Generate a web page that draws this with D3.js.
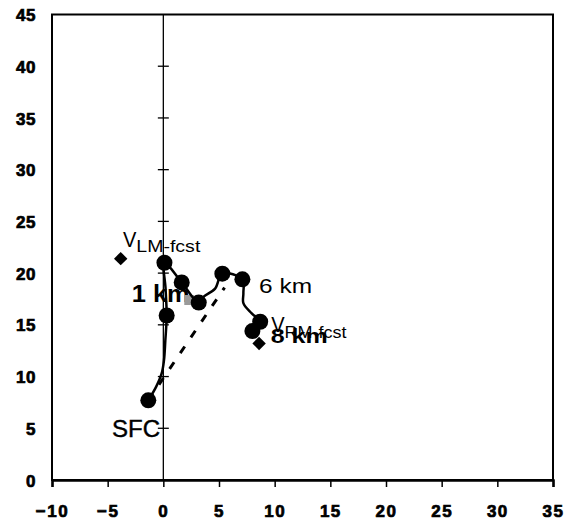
<!DOCTYPE html>
<html><head><meta charset="utf-8">
<script src="https://cdn.jsdelivr.net/npm/d3@7"></script>
<style>body{margin:0;background:#fff}svg{display:block}text{font-family:"Liberation Sans",Arial,sans-serif}</style>
</head><body><svg id="c" width="573" height="523"></svg>
<script>
const xTicks = [-10,-5,0,5,10,15,20,25,30,35];
const yTicks = [0,5,10,15,20,25,30,35,40,45];
const hodoX = [-1.35,-0.65,-0.15,0.06,0.18,0.3,0.2,0.1,1.65,3.18,3.6,4.65,5.3,7.1,7.19,7.19,7.94,8.7,8.0];
const hodoY = [7.7,9.0,10.3,11.6,13.5,15.9,18.5,21.0,19.1,17.15,17.7,18.5,19.95,19.4,18.06,17.1,16.1,15.3,14.4];
const dotX = [-1.35,0.3,0.1,1.65,3.18,5.3,7.1,8.7,8.0];
const dotY = [7.7,15.9,21.0,19.1,17.15,19.95,19.4,15.3,14.4];
const shearX = [-1.35,5.5];
const shearY = [7.7,18.6];
const stormNames = ["LM","RM"];
const stormX = [-3.83,8.6];
const stormY = [21.4,13.2];
const grayX = [2.33];
const grayY = [17.4];

const svg = d3.select("#c");
const x = d3.scaleLinear().domain([-10,35]).range([52,553]);
const y = d3.scaleLinear().domain([0,45]).range([480,14.5]);

// frame
svg.append("rect").attr("x",x(-10)).attr("y",y(45)).attr("width",x(35)-x(-10)).attr("height",y(0)-y(45))
  .attr("fill","none").attr("stroke","#000").attr("stroke-width",2);

// bottom axis
const xa = svg.append("g").attr("transform",`translate(0,${y(0)})`)
  .call(d3.axisBottom(x).tickValues(xTicks).tickSize(7).tickFormat(d3.format("d")));
xa.attr("font-size",null).attr("font-family",null);
xa.select(".domain").attr("stroke-width",2.5);
xa.selectAll(".tick line").attr("stroke-width",1.5);
xa.selectAll(".tick text").attr("dy",null).attr("y",37)
  .attr("font-size",17).attr("font-weight","bold").attr("letter-spacing","1.5px")
  .attr("fill","#000").attr("stroke","#000").attr("stroke-width",0.7);

// left labels
const ya = svg.append("g").attr("transform",`translate(${x(-10)},0)`)
  .call(d3.axisLeft(y).tickValues(yTicks).tickSize(0).tickPadding(16).tickFormat(d3.format("d")));
ya.attr("font-size",null).attr("font-family",null);
ya.select(".domain").remove();
ya.selectAll(".tick text").attr("font-size",17).attr("font-weight","bold").attr("letter-spacing","0.5px")
  .attr("fill","#000").attr("stroke","#000").attr("stroke-width",0.7).attr("dy","0.36em");

// x = 0 vertical axis with cross ticks
svg.append("line").attr("x1",x(0)).attr("x2",x(0)).attr("y1",y(45)).attr("y2",y(0)).attr("stroke","#000").attr("stroke-width",1.3);
svg.selectAll("line.ct").data(yTicks.filter(d=>d>0&&d<45)).enter().append("line").attr("class","ct")
  .attr("x1",x(0)-5.5).attr("x2",x(0)+5.5).attr("y1",d=>y(d)).attr("y2",d=>y(d)).attr("stroke","#000").attr("stroke-width",1.3);

// labels (behind markers)
const L = svg.append("g").attr("fill","#000");
L.append("text").attr("x",x(-0.3)).attr("y",y(4.16)).attr("text-anchor","end").attr("font-size",23)
  .attr("stroke","#000").attr("stroke-width",0.4)
  .attr("textLength",48).attr("lengthAdjust","spacingAndGlyphs").text("SFC");
L.append("text").attr("x",x(-2.84)).attr("y",y(17.24)).attr("font-size",23).attr("font-weight","bold")
  .attr("textLength",58).attr("lengthAdjust","spacingAndGlyphs").text("1 km");
L.append("text").attr("x",x(8.6)).attr("y",y(18.1)).attr("font-size",21)
  .attr("textLength",53).attr("lengthAdjust","spacingAndGlyphs").text("6 km");
L.append("text").attr("x",x(9.65)).attr("y",y(13.25)).attr("font-size",20).attr("font-weight","bold")
  .attr("textLength",57).attr("lengthAdjust","spacingAndGlyphs").text("8 km");
// V labels
const vl = [{x0:-3.63,y0:22.56,sl:64},{x0:9.69,y0:14.31,sl:62}];
stormNames.forEach((n,i)=>{
  const p = vl[i];
  L.append("text").attr("x",x(p.x0)).attr("y",y(p.y0)).attr("font-size",22)
    .attr("textLength",13.4).attr("lengthAdjust","spacingAndGlyphs").text("V");
  L.append("text").attr("x",x(p.x0)+13.4).attr("y",y(p.y0)+(i==0?5.6:6)).attr("font-size",16)
    .attr("textLength",p.sl).attr("lengthAdjust","spacingAndGlyphs").text(n+"-fcst");
});

// gray square
svg.selectAll("rect.g").data(grayX).enter().append("rect").attr("class","g")
  .attr("x",(d)=>x(d)-5).attr("y",(d,i)=>y(grayY[i])-5).attr("width",10).attr("height",10).attr("fill","#9a9a9a");

// shear dashed line
svg.append("line").attr("x1",x(shearX[0])).attr("y1",y(shearY[0])).attr("x2",x(shearX[1])).attr("y2",y(shearY[1]))
  .attr("stroke","#000").attr("stroke-width",3).attr("stroke-dasharray","8,11");

// hodograph
const pts = hodoX.map((d,i)=>[x(d),y(hodoY[i])]);
svg.append("path").attr("d",d3.line().curve(d3.curveCatmullRom)(pts)).attr("fill","none").attr("stroke","#000").attr("stroke-width",2.5);
svg.selectAll("circle.d").data(dotX).enter().append("circle").attr("class","d")
  .attr("cx",d=>x(d)).attr("cy",(d,i)=>y(dotY[i])).attr("r",8).attr("fill","#000");

// storm motion diamonds
svg.selectAll("path.dm").data(stormX).enter().append("path").attr("class","dm")
  .attr("transform",(d,i)=>`translate(${x(d)},${y(stormY[i])}) rotate(45)`)
  .attr("d",d3.symbol(d3.symbolSquare,90)()).attr("fill","#000");
</script></body></html>
